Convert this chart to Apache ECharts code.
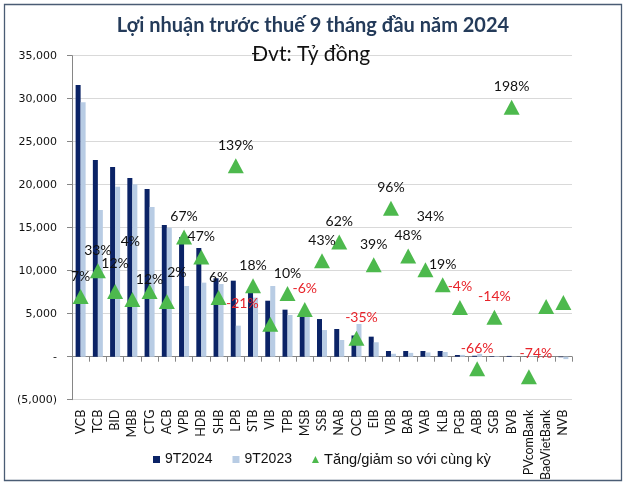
<!DOCTYPE html>
<html><head><meta charset="utf-8">
<script src="https://cdn.jsdelivr.net/npm/echarts@6/dist/echarts.min.js"></script>
<style>html,body{margin:0;padding:0;background:#fff}#c{width:626px;height:486px}</style>
</head><body><div id="c"></div>
<script>
const categories = ['VCB','TCB','BID','MBB','CTG','ACB','VPB','HDB','SHB','LPB','STB','VIB','TPB','MSB','SSB','NAB','OCB','EIB','VBB','BAB','VAB','KLB','PGB','ABB','SGB','BVB','PVcomBank','BaoVietBank','NVB'];
const profit2024 = [31600,22870,22060,20780,19500,15320,13900,12640,9120,8840,7760,6510,5470,4850,4380,3220,2470,2330,660,660,660,660,200,110,60,90,20,10,-60];
const profit2023 = [29600,17060,19770,20050,17410,15000,8220,8610,8450,3610,6870,8220,4850,5150,3100,1940,3800,1680,340,446,493,550,210,330,70,30,80,5,-280];
const growthPct = [7,33,12,4,12,2,67,47,6,139,18,-21,10,-6,43,62,-35,39,96,48,34,19,-4,-66,-14,198,-74,-3,1];
const growthLabels = ['7%','33%','12%','4%','12%','2%','67%','47%','6%','139%','18%','-21%','10%','-6%','43%','62%','-35%','39%','96%','48%','34%','19%','-4%','-66%','-14%','198%','-74%','',''];
const yTicks = [-5000,0,5000,10000,15000,20000,25000,30000,35000];

// label layout tweaks (pixel offsets), per category index
const labelShift = {2:[0,-8],3:[-2,-38],4:[0,8],5:[10,-9],11:[-28,0],16:[5,0],20:[5,-33],26:[7,-3]};

const chart = echarts.init(document.getElementById('c'));
const fmt = v => v === 0 ? '-' : (v < 0 ? '(' + Math.abs(v).toLocaleString('en-US') + ')' : v.toLocaleString('en-US'));

const lineData = growthPct.map((p, i) => {
  const lbl = growthLabels[i];
  const sh = labelShift[i] || [0, 0];
  return {
    value: p,
    label: {
      show: lbl !== '',
      formatter: lbl,
      color: p < 0 ? '#E8232A' : '#111',
      offset: sh
    }
  };
});

chart.setOption({
  animation: false,
  graphic: [{type:'rect', shape:{x:4.5,y:4.5,width:617,height:476}, style:{fill:'none', stroke:'#4A5C74', lineWidth:1.3}, silent:true}],
  title: [
    {text:'Lợi nhuận trước thuế 9 tháng đầu năm 2024', left:'center', top:11, textStyle:{fontFamily:'Lato', fontWeight:'bold', fontSize:20, color:'#243B5A'}},
    {text:'Đvt: Tỷ đồng', left:247, top:39, textStyle:{fontFamily:'Lato', fontWeight:'normal', fontSize:21, color:'#111'}}
  ],
  grid: {left:72, right:54, top:55.7, bottom:86.3},
  legend: {
    bottom: 14, left: 148, itemGap: 20, itemWidth: 7, itemHeight: 7,
    textStyle: {fontFamily:'Liberation Sans', fontSize:14, color:'#111'},
    data: [
      {name:'9T2024', icon:'rect'},
      {name:'9T2023', icon:'rect'},
      {name:'Tăng/giảm so với cùng kỳ', icon:'triangle', textStyle:{fontSize:14.6}}
    ]
  },
  xAxis: {
    type: 'category', data: categories,
    axisLine: {onZero:true, lineStyle:{color:'#868686'}},
    axisTick: {show:true, length:5, lineStyle:{color:'#868686'}},
    axisLabel: {rotate:90, interval:0, margin:10, fontFamily:'Lato', fontSize:12.5, color:'#111'}
  },
  yAxis: [
    {type:'value', min:-5000, max:35000, interval:5000,
     axisLine:{show:true, lineStyle:{color:'#868686'}},
     axisTick:{show:true, length:5, lineStyle:{color:'#868686'}},
     splitLine:{lineStyle:{color:'#D9D9D9'}},
     axisLabel:{formatter:fmt, fontFamily:'DejaVu Sans', fontSize:11, color:'#111', margin:15}},
    {type:'value', min:-97.15, max:250.13, show:false, splitLine:{show:false}}
  ],
  series: [
    {name:'9T2024', type:'bar', data:profit2024, barWidth:5, barGap:'0%', itemStyle:{color:'#0B2366'}},
    {name:'9T2023', type:'bar', data:profit2023, barWidth:5, barGap:'0%', itemStyle:{color:'#B8CCE4'}},
    {name:'Tăng/giảm so với cùng kỳ', type:'line', yAxisIndex:1, data:lineData,
     lineStyle:{opacity:0}, symbol:'triangle', symbolSize:[16,15], itemStyle:{color:'#4DB94D'},
     label:{show:true, position:'top', distance:6, fontFamily:'Lato', fontSize:14}, z:5}
  ]
});
</script></body></html>
